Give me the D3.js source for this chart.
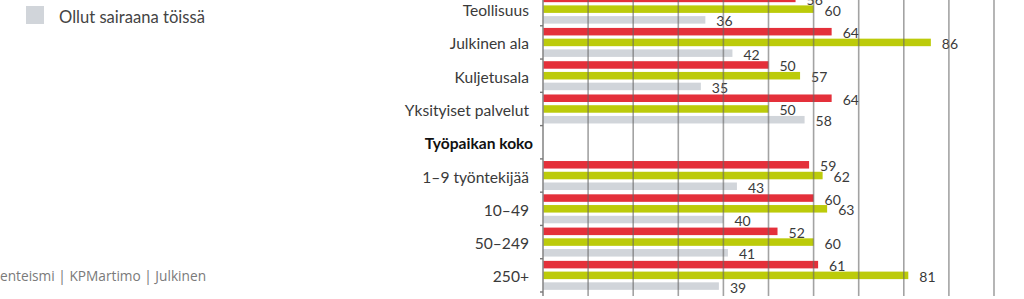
<!DOCTYPE html>
<html>
<head>
<meta charset="utf-8">
<script src="https://cdn.jsdelivr.net/npm/d3@7"></script>
<style>
  body { margin: 0; background: #fff; }
  svg { display: block; }
</style>
</head>
<body>
<div id="chart"></div>
<script>
// chart data
const categories = ["Teollisuus", "Julkinen ala", "Kuljetusala", "Yksityiset palvelut",
                    "Työpaikan koko", "1–9 työntekijää", "10–49", "50–249", "250+"]
const headers = ["Työpaikan koko"]
const seriesKeys = ["red", "green", "grey"]
const redValues   = [56, 64, 50, 64, null, 59, 60, 52, 61]
const greenValues = [60, 86, 57, 50, null, 62, 63, 60, 81]
const greyValues  = [36, 42, 35, 58, null, 43, 40, 41, 39]
const legendLabel = "Ollut sairaana töissä"
const footerText = "enteismi | KPMartimo | Julkinen"

const colors = { red: "#e4303a", green: "#bccb0a", grey: "#d1d5da" }

const width = 1024
const height = 299

const svg = d3.select("#chart")
  .append("svg")
  .attr("width", width)
  .attr("height", height)

// rows
const rows = categories.map((c, i) => ({
  cat: c,
  values: [
    { key: "red", v: redValues[i] },
    { key: "green", v: greenValues[i] },
    { key: "grey", v: greyValues[i] }
  ]
}))

const x = d3.scaleLinear().domain([0, 100]).range([543, 994])
const y = d3.scaleBand().domain(categories).range([-7.5, 292])
const ySub = d3.scaleBand().domain(seriesKeys)
  .range([0, y.bandwidth()])
  .paddingInner(0.3)
  .paddingOuter(0.2)

// bars
const groups = svg.append("g")
  .selectAll("g")
  .data(rows)
  .join("g")
  .attr("transform", d => `translate(0,${y(d.cat)})`)

groups.selectAll("rect")
  .data(d => d.values.filter(v => v.v != null))
  .join("rect")
  .attr("x", x(0))
  .attr("y", d => ySub(d.key))
  .attr("width", d => x(d.v) - x(0))
  .attr("height", ySub.bandwidth())
  .attr("fill", d => colors[d.key])

// gridlines, drawn over the bars like in the original
svg.append("g")
  .selectAll("line")
  .data(x.ticks(10).filter(t => t > 0))
  .join("line")
  .attr("x1", d => x(d)).attr("x2", d => x(d))
  .attr("y1", 0).attr("y2", 296)
  .attr("stroke", "#666")
  .attr("stroke-opacity", 0.6)
  .attr("stroke-width", 1.6)

// axis line + boundary ticks
svg.append("line")
  .attr("x1", x(0)).attr("x2", x(0))
  .attr("y1", 0).attr("y2", 296)
  .attr("stroke", "#8a8a8a")
  .attr("stroke-width", 1.6)

const bounds = categories.map(c => y(c)).concat([y.range()[1]])
svg.append("g")
  .selectAll("line")
  .data(bounds)
  .join("line")
  .attr("x1", x(0) - 3).attr("x2", x(0))
  .attr("y1", d => d).attr("y2", d => d)
  .attr("stroke", "#777")
  .attr("stroke-width", 1.4)

// value labels
groups.selectAll("text")
  .data(d => d.values.filter(v => v.v != null))
  .join("text")
  .attr("x", d => x(d.v) + 11)
  .attr("y", d => ySub(d.key) + ySub.bandwidth() / 2 + 1)
  .attr("dominant-baseline", "central")
  .attr("font-family", "Lato, sans-serif")
  .attr("font-size", 14)
  .attr("fill", "#3a3a3a")
  .text(d => d.v)

// category labels
svg.append("g")
  .selectAll("text")
  .data(categories)
  .join("text")
  .attr("x", d => headers.includes(d) ? 533 : 529)
  .attr("y", d => y(d) + y.bandwidth() / 2 + 1)
  .attr("text-anchor", "end")
  .attr("dominant-baseline", "central")
  .attr("font-family", "Lato, sans-serif")
  .attr("font-size", 15.6)
  .attr("font-weight", d => headers.includes(d) ? "bold" : "normal")
  .attr("fill", d => headers.includes(d) ? "#111" : "#3a3a3a")
  .text(d => d)

// legend (only the last item is visible)
svg.append("rect")
  .attr("x", 26).attr("y", 6)
  .attr("width", 18).attr("height", 18)
  .attr("fill", colors.grey)

svg.append("text")
  .attr("x", 59).attr("y", 17)
  .attr("dominant-baseline", "central")
  .attr("font-family", "Lato, sans-serif")
  .attr("font-size", 16.6)
  .attr("fill", "#444")
  .text(legendLabel)

// footer
svg.append("text")
  .attr("x", 0).attr("y", 275)
  .attr("dominant-baseline", "central")
  .attr("font-family", "'Open Sans', sans-serif")
  .attr("font-size", 13.7)
  .attr("fill", "#7a7a7a")
  .text(footerText)
</script>
</body>
</html>
